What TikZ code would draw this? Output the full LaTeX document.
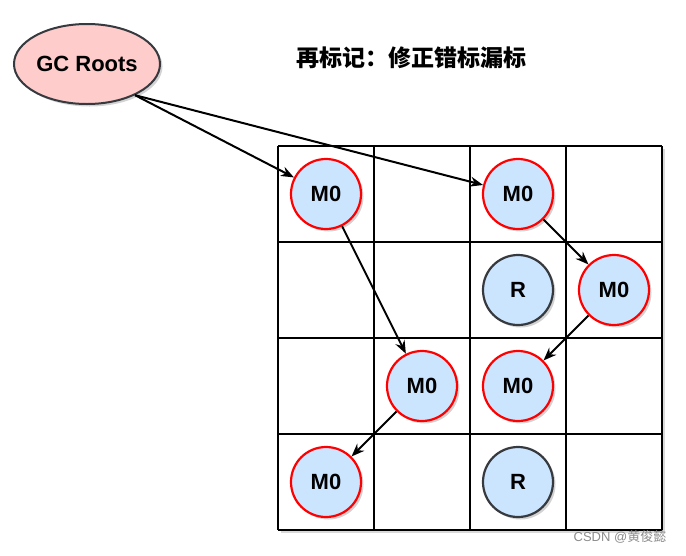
\documentclass[tikz,border=0pt]{standalone}
\usepackage{fontspec}
\setmainfont{Liberation Sans}
\newfontfamily\cjk{Noto Sans CJK SC}
\usetikzlibrary{positioning,arrows.meta,shapes.geometric,shadows}
\definecolor{RootPink}{RGB}{255,204,204}
\definecolor{ObjBlue}{RGB}{204,229,255}
\definecolor{RingGray}{RGB}{54,57,61}

\begin{document}
\begin{tikzpicture}[x=1pt,y=-1pt]
	\tikzset{
		m/.style={circle, draw=red, line width=2.2pt, fill=ObjBlue,
			minimum size=70pt, inner sep=0pt, font=\fontsize{22}{24}\selectfont\bfseries,
			drop shadow={shadow xshift=2.5pt, shadow yshift=-2.5pt, opacity=0.35}},
		r/.style={m, draw=RingGray},
		e/.style={draw=black, line width=2pt, -{Stealth[length=13pt, width=10pt]}},
		g/.style={draw=black, line width=2.6pt}
	}
	\useasboundingbox (0,0) rectangle (686,555);
	
	% grid
	\fill[white, drop shadow={shadow xshift=2.5pt, shadow yshift=-2.5pt, opacity=0.3}] (278,146) rectangle (662,530);
	\foreach \k in {0,...,4} {
		\draw[g] (278+96*\k,146) -- (278+96*\k,530);
		\draw[g] (278,146+96*\k) -- (662,146+96*\k);
	}
	
	\node[ellipse, draw=RingGray, fill=RootPink, line width=2pt,
		minimum width=146pt, minimum height=80pt, inner sep=0pt,
		font=\fontsize{22}{24}\selectfont\bfseries,
		drop shadow={shadow xshift=2.5pt, shadow yshift=-2.5pt, opacity=0.35}] (gc) at (87,64) {GC Roots};
	\node[font=\cjk\fontsize{23}{26}\selectfont\bfseries] (title) at (411,58) {再标记：修正错标漏标};
	
	\node[m] (m11) at (326,194) {M0};
	\node[m] (m31) at (518,194) {M0};
	\node[r] (r32) at (518,290) {R};
	\node[m] (m42) at (614,290) {M0};
	\node[m] (m23) at (422,386) {M0};
	\node[m] (m33) at (518,386) {M0};
	\node[m] (m14) at (326,482) {M0};
	\node[r] (r34) at (518,482) {R};
	
	% references
	\draw[e] (gc.-33) -- (m11);
	\draw[e] (gc.-33) -- (m31);
	\draw[e] (m11) -- (m23);
	\draw[e] (m31) -- (m42);
	\draw[e] (m42) -- (m33);
	\draw[e] (m23) -- (m14);
	
	\node[text=black!45, font=\fontsize{13}{14}\selectfont] (mark) at (620,537) {CSDN @\cjk 黄俊懿};
\end{tikzpicture}
\end{document}
